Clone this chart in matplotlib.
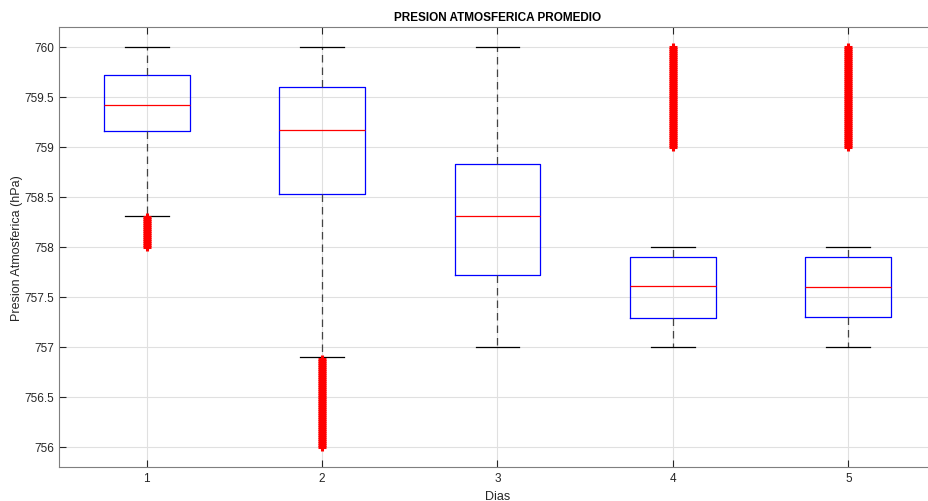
import matplotlib.pyplot as plt

plt.rcParams['font.family'] = ['Liberation Sans', 'DejaVu Sans']

dias = [1, 2, 3, 4, 5]

# cuartiles y bigotes por dia (hPa)
q1 = [759.16, 758.53, 757.72, 757.29, 757.30]
mediana = [759.42, 759.17, 758.31, 757.61, 757.60]
q3 = [759.72, 759.60, 758.83, 757.90, 757.90]
bigote_inf = [758.31, 756.90, 757.00, 757.00, 757.00]
bigote_sup = [760.00, 760.00, 760.00, 758.00, 758.00]

# valores atipicos
atipicos_1 = [758.00, 758.02, 758.04, 758.06, 758.08, 758.10, 758.12, 758.14,
              758.16, 758.18, 758.20, 758.22, 758.24, 758.26, 758.28, 758.30]
atipicos_2 = [756.00, 756.02, 756.04, 756.06, 756.08, 756.10, 756.12, 756.14,
              756.16, 756.18, 756.20, 756.22, 756.24, 756.26, 756.28, 756.30,
              756.32, 756.34, 756.36, 756.38, 756.40, 756.42, 756.44, 756.46,
              756.48, 756.50, 756.52, 756.54, 756.56, 756.58, 756.60, 756.62,
              756.64, 756.66, 756.68, 756.70, 756.72, 756.74, 756.76, 756.78,
              756.80, 756.82, 756.84, 756.86, 756.88]
atipicos_3 = []
atipicos_4 = [759.00, 759.02, 759.04, 759.06, 759.08, 759.10, 759.12, 759.14,
              759.16, 759.18, 759.20, 759.22, 759.24, 759.26, 759.28, 759.30,
              759.32, 759.34, 759.36, 759.38, 759.40, 759.42, 759.44, 759.46,
              759.48, 759.50, 759.52, 759.54, 759.56, 759.58, 759.60, 759.62,
              759.64, 759.66, 759.68, 759.70, 759.72, 759.74, 759.76, 759.78,
              759.80, 759.82, 759.84, 759.86, 759.88, 759.90, 759.92, 759.94,
              759.96, 759.98, 760.00]
atipicos_5 = list(atipicos_4)
atipicos = [atipicos_1, atipicos_2, atipicos_3, atipicos_4, atipicos_5]

stats = []
for i in range(len(dias)):
    stats.append({'med': mediana[i], 'q1': q1[i], 'q3': q3[i],
                  'whislo': bigote_inf[i], 'whishi': bigote_sup[i],
                  'fliers': atipicos[i]})

fig = plt.figure(figsize=(9.29, 5.02), dpi=100)
ax = fig.add_axes([59 / 929, 34 / 502, 877 / 929, 440 / 502])

ax.bxp(stats, positions=dias, widths=0.49,
       boxprops=dict(color='blue', linewidth=0.9),
       medianprops=dict(color='red', linewidth=0.9),
       whiskerprops=dict(color='#444444', linestyle=(0, (6, 4)), linewidth=0.9),
       capprops=dict(color='black', linewidth=0.9),
       capwidths=0.25,
       flierprops=dict(marker='+', markeredgecolor='red', markersize=6,
                       markeredgewidth=2.2, linestyle='none'))

ax.set_xlim(0.5, 5.5)
ax.set_ylim(755.8, 760.2)
ax.set_xticks(dias)
ax.set_xticklabels([str(d) for d in dias])
ax.set_yticks([756, 756.5, 757, 757.5, 758, 758.5, 759, 759.5, 760])
ax.set_yticklabels(['756', '756.5', '757', '757.5', '758', '758.5', '759', '759.5', '760'])
ax.tick_params(direction='in', length=5, width=0.8, labelsize=8.5, colors='#262626',
               top=True, right=True)
ax.grid(True, color='#e0e0e0', linewidth=0.8)
ax.set_axisbelow(True)
for s in ax.spines.values():
    s.set_color('#7f7f7f')
    s.set_linewidth(0.8)

ax.set_title('PRESION ATMOSFERICA PROMEDIO', fontsize=8.5, fontweight='bold', pad=5)
ax.set_xlabel('Dias', fontsize=9, color='#262626')
ax.set_ylabel('Presion Atmosferica (hPa)', fontsize=9, color='#262626')
ax.xaxis.set_label_coords(0.5, -(497 - 468) / 440, transform=ax.transAxes)
ax.xaxis.label.set_va('center')
ax.yaxis.set_label_coords(-(59 - 17) / 877, 0.5)
ax.yaxis.label.set_va('center')

fig.savefig('out.png', dpi=100)
